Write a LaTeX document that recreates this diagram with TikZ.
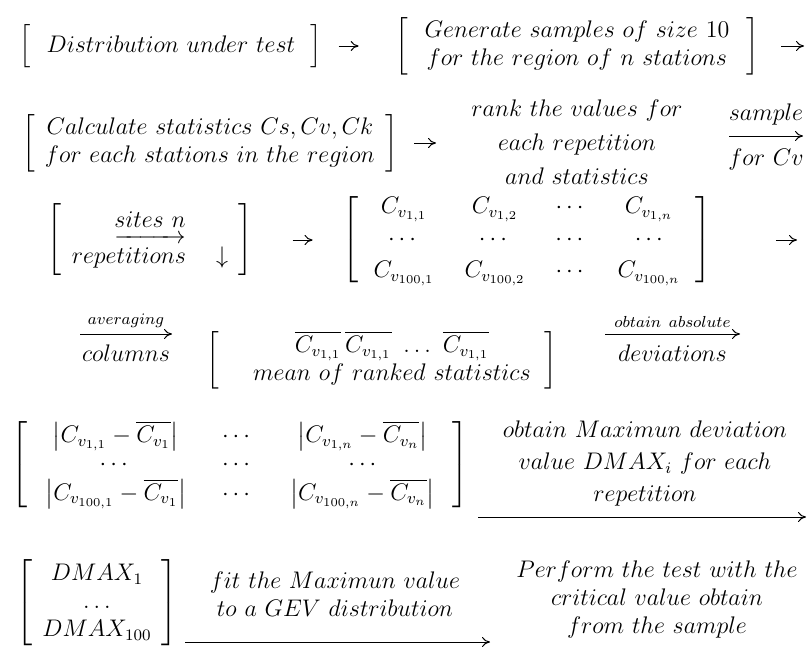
\documentclass[tikz,border=0pt]{standalone}
\usepackage{amsmath,amssymb}
\usetikzlibrary{arrows.meta}

\tikzset{
  arr/.style={-{To[length=4pt,width=5pt]}, line width=0.5pt},
}

\begin{document}
\begin{tikzpicture}[x=0.5pt, y=-0.5pt, every node/.style={font=\large, inner sep=0pt}]
  \useasboundingbox (0,0) rectangle (807,649);

  % Row 1: distribution and samples
  \node (dist) at (171,46) {$\Bigl[\ \ Distribution\ under\ test\ \ \Bigr]$};
  \node (gen) at (577,46) {$\left[\;\begin{array}{c} Generate\ samples\ of\ size\ 10\\ for\ the\ region\ of\ n\ stations\end{array}\;\right]$};
  \coordinate (out1) at (804,46);
  \draw[arr] ([xshift=8pt]dist.east) -- ++(10pt,0);
  \draw[arr] ([xshift=11pt]gen.east) -- (out1);

  % Row 2: statistics and ranking
  \node (calc) at (210,143) {$\left[\begin{array}{c} Calculate\ statistics\ Cs, Cv, Ck\\ for\ each\ stations\ in\ the\ region\end{array}\right]$};
  \node (rank) at (577,145) {$\begin{array}{c} rank\ the\ values\ for\\[3pt] each\ repetition\\[3pt] and\ statistics\end{array}$};
  \draw[arr] ([xshift=8pt]calc.east) -- ++(11pt,0);
  \coordinate (s1) at (729,136);
  \coordinate (s2) at (803,136);
  \draw[arr] (s1) -- (s2) node[midway, above=5pt] (samptop) {$sample$} node[midway, below=6pt] (sampbot) {$for\ Cv$};

  % Row 3: sites and Cv matrix
  \node (sites) at (150,240) {$\left[\begin{array}{c} \underrightarrow{\vphantom{g}sites\ n}\\[4pt] repetitions\ \ \ \downarrow\end{array}\right]$};
  \node (cmat) at (527,240) {$\setlength\arraycolsep{7.5pt}\left[\begin{array}{cccc} C_{v_{1,1}} & C_{v_{1,2}} & \cdots & C_{v_{1,n}}\\[2pt] \cdots & \cdots & \cdots & \cdots\\[2pt] C_{v_{100,1}} & C_{v_{100,2}} & \cdots & C_{v_{100,n}}\end{array}\right]$};
  \coordinate (out3) at (797,240);
  \draw[arr] ([xshift=20pt]sites.east) -- ++(10pt,0);
  \draw[arr] ([xshift=32pt]cmat.east) -- (out3);

  % Row 4: averaging
  \coordinate (a1) at (80,334);
  \coordinate (a2) at (172,334);
  \draw[arr] (a1) -- (a2) node[midway, above=3pt] (avgtop) {$\scriptstyle averaging$} node[midway, below=5pt] (avgbot) {$columns$};
  \node (mean) at (382,360) {$\left[\quad\begin{array}{c} \overline{C_{v_{1,1}}}\,\overline{C_{v_{1,1}}}\ \ldots\ \overline{C_{v_{1,1}}}\\ mean\ of\ ranked\ statistics\end{array}\,\right]$};
  \coordinate (b1) at (605,334);
  \coordinate (b2) at (740,334);
  \draw[arr] (b1) -- (b2) node[midway, above=3pt] (devtop) {$\scriptstyle obtain\ absolute$} node[midway, below=5pt] (devbot) {$deviations$};

  % Row 5: deviations
  \node (dmat) at (240,465) {$\setlength\arraycolsep{9pt}\left[\begin{array}{ccc} \bigl\lvert C_{v_{1,1}}-\overline{C_{v_1}}\bigr\rvert & \cdots & \bigl\lvert C_{v_{1,n}}-\overline{C_{v_n}}\bigr\rvert\\ \cdots & \cdots & \cdots\\ \bigl\lvert C_{v_{100,1}}-\overline{C_{v_1}}\bigr\rvert & \cdots & \bigl\lvert C_{v_{100,n}}-\overline{C_{v_n}}\bigr\rvert\end{array}\right]$};
  \node (maxdev) at (645,464) {$\begin{array}{c} obtain\ Maximun\ deviation\\[2pt] value\ DMAX_i\ for\ each\\[2pt] repetition\end{array}$};
  \coordinate (m1) at (478,517);
  \coordinate (m2) at (806,517);
  \draw[arr] (m1) -- (m2);

  % Row 6: GEV fit and test
  \node (dmax) at (97,603) {$\left[\begin{array}{c} DMAX_1\\ \ldots\\ DMAX_{100}\end{array}\right]$};
  \node (fit) at (335,597) {$\begin{array}{c} fit\ the\ Maximun\ value\\ to\ a\ GEV\ distribution\end{array}$};
  \coordinate (f1) at (185,642);
  \coordinate (f2) at (490,642);
  \draw[arr] (f1) -- (f2);
  \node (perform) at (657,600) {$\begin{array}{c} Perform\ the\ test\ with\ the\\ critical\ value\ obtain\\ from\ the\ sample\end{array}$};
\end{tikzpicture}
\end{document}
